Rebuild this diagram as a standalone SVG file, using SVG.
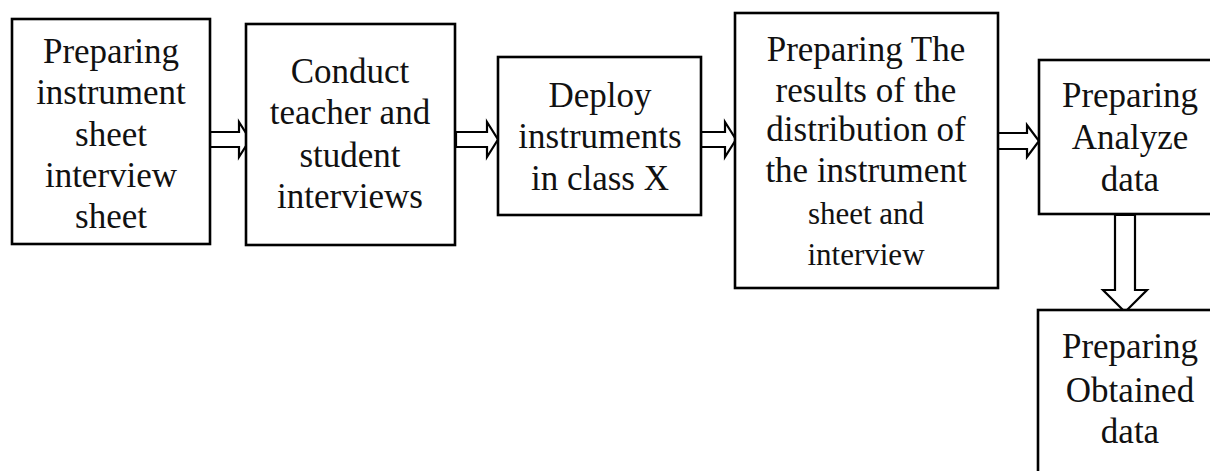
<svg xmlns="http://www.w3.org/2000/svg" width="1210" height="471" viewBox="0 0 1210 471">
  <style>
    .box { fill: #ffffff; stroke: #000000; stroke-width: 2.6; }
    .arrow { fill: #ffffff; stroke: #000000; stroke-width: 2.2; stroke-linejoin: miter; }
    .label { font-family: "Liberation Serif", "DejaVu Serif", serif; font-size: 35px; fill: #111111; text-anchor: middle; }
    .small { font-size: 31px; }
  </style>
  <rect width="1210" height="471" fill="#ffffff"/>

  <!-- connectors: hollow block arrows -->
  <g id="connectors">
    <polygon class="arrow" points="210,132 239,132 239,122 250,139.5 239,157 239,147 210,147"/>
    <polygon class="arrow" points="456,132 487,132 487,122 498,139.5 487,157 487,147 456,147"/>
    <polygon class="arrow" points="701,132 725,132 725,122 736,139.5 725,157 725,147 701,147"/>
    <polygon class="arrow" points="997,133 1027,133 1027,125 1039,141 1027,157 1027,149 997,149"/>
    <polygon class="arrow" points="1115,215 1135,215 1135,290 1147,290 1125,312 1103,290 1115,290"/>
  </g>

  <g id="node-prepare-instrument">
    <rect class="box" x="12" y="19" width="198" height="225"/>
    <text class="label" x="111" y="63">Preparing</text>
    <text class="label" x="111" y="104">instrument</text>
    <text class="label" x="111" y="146">sheet</text>
    <text class="label" x="111" y="187">interview</text>
    <text class="label" x="111" y="228">sheet</text>
  </g>

  <g id="node-interviews">
    <rect class="box" x="246" y="24" width="209" height="221"/>
    <text class="label" x="350" y="83">Conduct</text>
    <text class="label" x="350" y="124">teacher and</text>
    <text class="label" x="350" y="167">student</text>
    <text class="label" x="350" y="208">interviews</text>
  </g>

  <g id="node-deploy">
    <rect class="box" x="498" y="57" width="203" height="158"/>
    <text class="label" x="600" y="107">Deploy</text>
    <text class="label" x="600" y="148">instruments</text>
    <text class="label" x="600" y="190">in class X</text>
  </g>

  <g id="node-results">
    <rect class="box" x="735" y="13" width="263" height="275"/>
    <text class="label" x="866" y="61">Preparing The</text>
    <text class="label" x="866" y="102">results of the</text>
    <text class="label" x="866" y="141">distribution of</text>
    <text class="label" x="866" y="182">the instrument</text>
    <text class="label small" x="866" y="224">sheet and</text>
    <text class="label small" x="866" y="265">interview</text>
  </g>

  <g id="node-analyze">
    <rect class="box" x="1039" y="60" width="190" height="154"/>
    <text class="label" x="1130" y="107">Preparing</text>
    <text class="label" x="1130" y="149">Analyze</text>
    <text class="label" x="1130" y="191">data</text>
  </g>

  <g id="node-obtained">
    <rect class="box" x="1038" y="310" width="190" height="180"/>
    <text class="label" x="1130" y="358">Preparing</text>
    <text class="label" x="1130" y="402">Obtained</text>
    <text class="label" x="1130" y="443">data</text>
  </g>
</svg>
